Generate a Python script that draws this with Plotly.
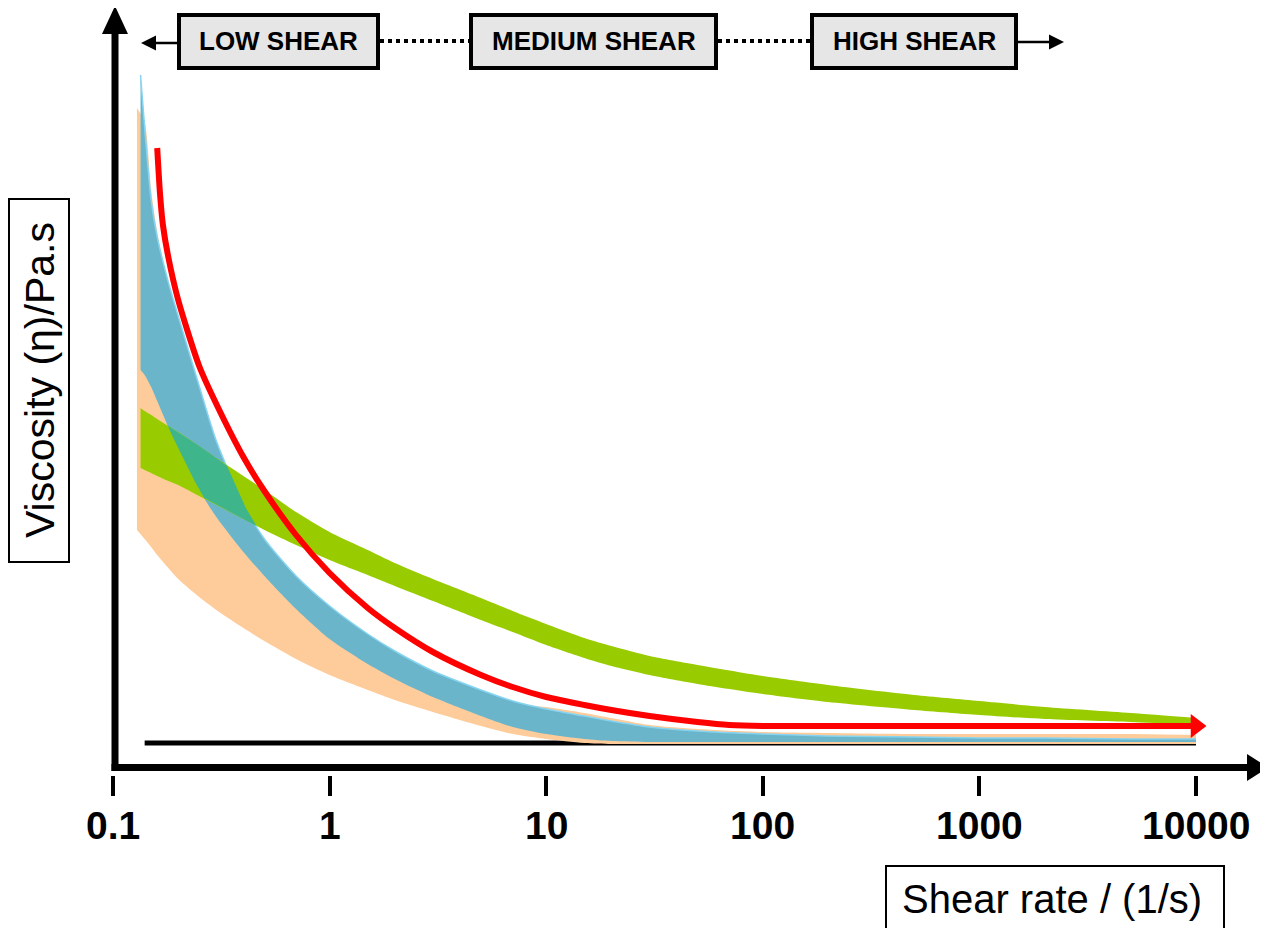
import numpy as np
import plotly.graph_objects as go

# ---------------- data (shear rate in 1/s, viscosity in arbitrary units) ----------------
shear = [0.134, 0.14, 0.15, 0.16, 0.18, 0.2, 0.25, 0.3, 0.4, 0.5, 0.7, 1, 1.5, 2, 3, 5, 7,
         10, 15, 20, 30, 50, 100, 200, 500, 1000, 2000, 5000, 10000]
blue_upper = [693, 641, 568, 531, 486, 452, 382, 327, 264, 229, 192, 162, 134, 117, 97, 78, 67,
              59, 52, 47, 41, 37, 34, 32, 31, 30, 30, 29, 29]
blue_lower = [398, 393, 381, 367, 341, 319, 278, 251, 216, 192, 159, 129, 104, 89, 71, 52, 41,
              34, 29, 27, 26, 26, 26, 26, 26, 26, 26, 26, 26]
green_upper = [360, 357, 353, 349, 342, 336, 322, 310, 292, 278, 256, 236, 218, 205, 189, 170, 157,
               144, 130, 122, 112, 103, 92, 83, 73, 67, 61, 55, 50]
green_lower = [300, 298, 295, 292, 287, 283, 272, 263, 249, 238, 223, 208, 193, 182, 167, 148, 136,
               123, 110, 102, 93, 84, 74, 66, 58, 53, 49, 46, 43]

orange_x = [0.129, 0.14, 0.15, 0.16, 0.18, 0.2, 0.25, 0.3, 0.4, 0.5, 0.7, 1, 1.5, 2, 3, 5, 7,
            10, 15, 20, 30, 50, 100, 200, 500, 1000, 2000, 5000, 10000]
orange_upper = [660, 646, 578, 536, 483, 449, 379, 324, 261, 226, 189, 159, 131, 114, 94, 75, 64,
                61, 55, 50, 43, 39, 36, 35, 34, 34, 34, 34, 33]
orange_lower = [238, 229, 221, 213, 200, 189, 171, 158, 140, 127, 109, 93, 78, 68, 56, 42, 34,
                29, 25, 24, 24, 24, 24, 24, 24, 24, 24, 24, 24]

red_x = [0.16, 0.165, 0.17, 0.18, 0.2, 0.25, 0.3, 0.4, 0.5, 0.7, 1, 1.5, 2, 3, 5, 7, 10, 15, 20,
         30, 50, 70, 100, 10000]
red_v = [620, 573, 543, 511, 468, 402, 364, 311, 277, 233, 195, 160, 140, 116, 93, 81, 71, 63, 58,
         52, 46, 43, 42, 42]

base_x = [0.14, 10000]
base_v = [25, 25]

tick_vals = [0.1, 1, 10, 100, 1000, 10000]
tick_text = ["0.1", "1", "10", "100", "1000", "10000"]
regions = ["LOW SHEAR", "MEDIUM SHEAR", "HIGH SHEAR"]

# ---------------- styles ----------------
ORANGE = "#FECC9A"
BLUE = "#6AB5CA"
BLUE_EDGE = "#86D4F2"
GREEN = "#99CC00"
TEAL = "#3FB58C"
RED = "#FF0000"
FONT = "Liberation Sans, Arial, Helvetica, sans-serif"

OFF = 8                      # page offset of the plot div
W, H = 1260, 920
ML, MR, MT, MB = 105, 72, 0, 153
PW, PH = W - ML - MR, H - MT - MB


def PX(px):
    """reference page pixel x -> paper"""
    return (px - OFF - ML) / PW


def PY(py):
    """reference page pixel y -> paper"""
    return (MT + PH - (py - OFF)) / PH


fig = go.Figure()
SM = 0.7


def band(x, lo, hi, color, edge=None):
    fig.add_trace(go.Scatter(x=x, y=lo, mode="lines",
                             line=dict(width=0, color=color, shape="spline", smoothing=SM),
                             hoverinfo="skip", showlegend=False))
    fig.add_trace(go.Scatter(x=x, y=hi, mode="lines", fill="tonexty", fillcolor=color,
                             line=dict(width=1.5 if edge else 0, color=edge or color,
                                       shape="spline", smoothing=SM),
                             hoverinfo="skip", showlegend=False))


# black baseline
fig.add_trace(go.Scatter(x=base_x, y=base_v, mode="lines", line=dict(color="black", width=5),
                         hoverinfo="skip", showlegend=False))
band(orange_x, orange_lower, orange_upper, ORANGE)
band(shear, blue_lower, blue_upper, BLUE, BLUE_EDGE)
band(shear, green_lower, green_upper, GREEN)

# overlap of blue and green bands (computed geometrically)
lx = np.log10(shear)
fine = np.linspace(lx[0], lx[-1], 5000)
hi = np.minimum(np.interp(fine, lx, blue_upper), np.interp(fine, lx, green_upper))
lo = np.maximum(np.interp(fine, lx, blue_lower), np.interp(fine, lx, green_lower))
idx = np.where(hi > lo)[0]
if len(idx):
    xs = 10 ** fine[idx]
    fig.add_trace(go.Scatter(x=np.concatenate([xs, xs[::-1]]),
                             y=np.concatenate([hi[idx], lo[idx][::-1]]),
                             mode="lines", fill="toself", fillcolor=TEAL,
                             line=dict(width=0, color=TEAL), hoverinfo="skip", showlegend=False))

# red curve with arrow head
fig.add_trace(go.Scatter(x=red_x, y=red_v, mode="lines",
                         line=dict(color=RED, width=6, shape="spline", smoothing=SM),
                         hoverinfo="skip", showlegend=False))
fig.add_trace(go.Scatter(x=[red_x[-1]], y=[red_v[-1]], mode="markers", cliponaxis=False,
                         marker=dict(symbol="triangle-right", size=21, color=RED),
                         hoverinfo="skip", showlegend=False))

shapes = []
annotations = []
# y axis with arrow
shapes.append(dict(type="line", xref="paper", yref="paper", x0=PX(115), x1=PX(115),
                   y0=PY(771), y1=PY(30), line=dict(color="black", width=7)))
shapes.append(dict(type="path", xref="paper", yref="paper",
                   path=f"M {PX(102)},{PY(34)} L {PX(128)},{PY(34)} L {PX(115)},{PY(6)} Z",
                   fillcolor="black", line=dict(width=0)))
# x axis with arrow
shapes.append(dict(type="line", xref="paper", yref="paper", x0=PX(111.5), x1=PX(1250),
                   y0=PY(767.5), y1=PY(767.5), line=dict(color="black", width=7)))
shapes.append(dict(type="path", xref="paper", yref="paper",
                   path=f"M {PX(1247)},{PY(754)} L {PX(1247)},{PY(781)} L {PX(1268)},{PY(767.5)} Z",
                   fillcolor="black", line=dict(width=0)))

# tick labels
for v, t in zip(tick_vals, tick_text):
    annotations.append(dict(xref="x", yref="paper", x=np.log10(v), y=PY(825), text=f"<b>{t}</b>",
                            showarrow=False, xanchor="center", yanchor="middle",
                            font=dict(family=FONT, size=39, color="black")))

# shear regime boxes
boxes = [(179, 378), (471, 716), (812, 1016)]
for (x0, x1), txt in zip(boxes, regions):
    shapes.append(dict(type="rect", xref="paper", yref="paper", x0=PX(x0), x1=PX(x1),
                       y0=PY(68), y1=PY(15), fillcolor="#E6E6E6",
                       line=dict(color="black", width=4)))
    annotations.append(dict(xref="paper", yref="paper", x=PX((x0 + x1) / 2), y=PY(41.5),
                            xanchor="center", yanchor="middle",
                            text=f"<b>{txt}</b>", showarrow=False,
                            font=dict(family=FONT, size=26, color="black")))
# dotted connectors
for a, b in [(380, 469), (718, 810)]:
    shapes.append(dict(type="line", xref="paper", yref="paper", x0=PX(a), x1=PX(b),
                       y0=PY(41), y1=PY(41), line=dict(color="black", width=4, dash="4px,4px")))
# side arrows
annotations.append(dict(xref="paper", yref="paper", x=PX(141), y=PY(43), ax=38, ay=0,
                        text="", showarrow=True, arrowhead=2, arrowsize=1.2, arrowwidth=2.5,
                        arrowcolor="black"))
annotations.append(dict(xref="paper", yref="paper", x=PX(1064), y=PY(42), ax=-48, ay=0,
                        text="", showarrow=True, arrowhead=2, arrowsize=1.2, arrowwidth=2.5,
                        arrowcolor="black"))

# axis title boxes
shapes.append(dict(type="rect", xref="paper", yref="paper", x0=PX(9), x1=PX(69),
                   y0=PY(562), y1=PY(199), line=dict(color="black", width=2)))
annotations.append(dict(xref="paper", yref="paper", x=PX(40), y=PY(380),
                        xanchor="center", yanchor="middle",
                        text="Viscosity (η)/Pa.s", textangle=-90, showarrow=False,
                        font=dict(family=FONT, size=41, color="black")))
shapes.append(dict(type="rect", xref="paper", yref="paper", x0=PX(886), x1=PX(1224),
                   y0=PY(945), y1=PY(866), line=dict(color="black", width=2)))
annotations.append(dict(xref="paper", yref="paper", x=PX(1052), y=PY(899),
                        xanchor="center", yanchor="middle",
                        text="Shear rate / (1/s)", showarrow=False,
                        font=dict(family=FONT, size=40, color="black")))

fig.update_layout(
    width=W, height=H,
    margin=dict(l=ML, r=MR, t=MT, b=MB),
    paper_bgcolor="white", plot_bgcolor="white",
    showlegend=False,
    shapes=shapes, annotations=annotations,
    xaxis=dict(type="log", range=[-1, 4], showgrid=False, zeroline=False, showline=False,
               tickvals=tick_vals, ticktext=[""] * len(tick_vals), ticks="outside", ticklen=20,
               tickwidth=4, tickcolor="black"),
    yaxis=dict(range=[-7, 760], showgrid=False, zeroline=False, showline=False,
               showticklabels=False, ticks=""),
)

fig.write_html("out.html")
